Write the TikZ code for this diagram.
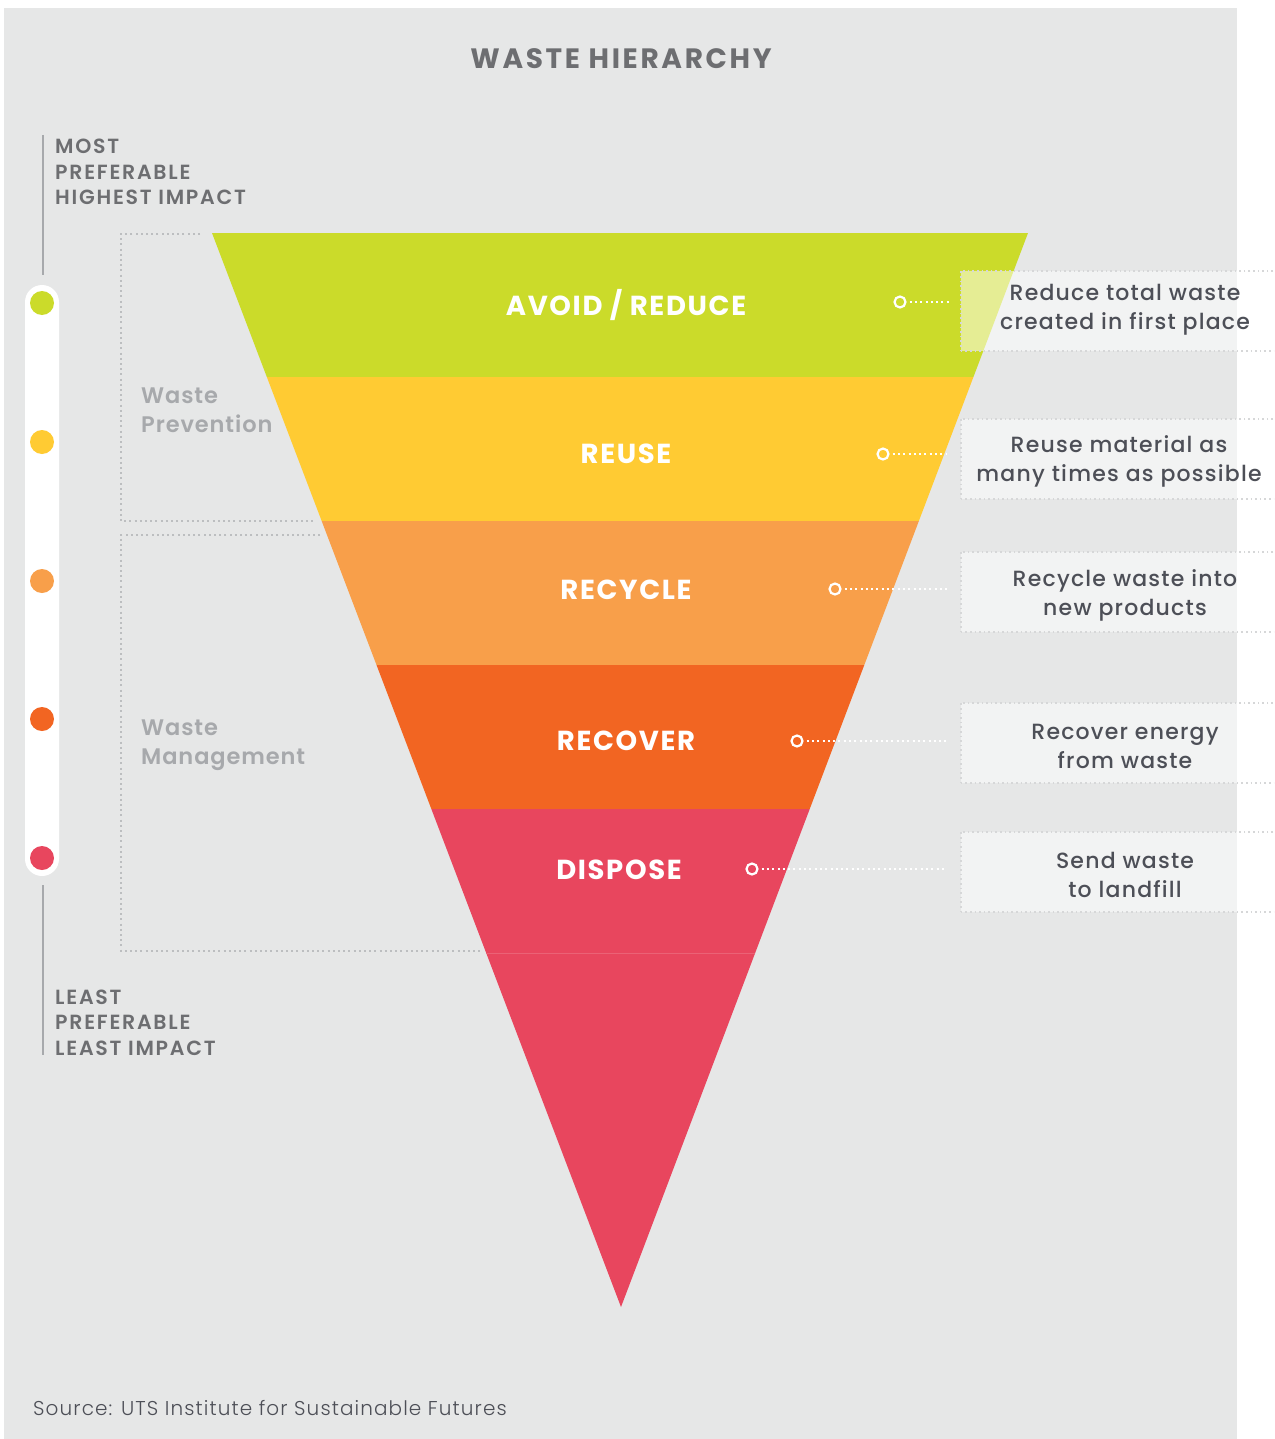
\documentclass[tikz,border=0pt]{standalone}
\usepackage{fontspec}
\setmainfont{Poppins}
\newfontfamily\fbold{Poppins SemiBold}
\newfontfamily\fxbold{Poppins Bold}
\newfontfamily\fmed{Poppins Medium}
\newfontfamily\flight{Poppins Light}
\definecolor{bggrey}{HTML}{E6E7E7}
\definecolor{cgreen}{HTML}{CBDB2A}
\definecolor{cyellow}{HTML}{FFCB33}
\definecolor{clorange}{HTML}{F89F4A}
\definecolor{corange}{HTML}{F26522}
\definecolor{cred}{HTML}{E8465E}
\definecolor{tdark}{HTML}{4D4F57}
\definecolor{tgrey}{HTML}{6D6E71}
\definecolor{tlight}{HTML}{A7A9AC}
\definecolor{dotgrey}{HTML}{BCBEC0}
\definecolor{boxdot}{HTML}{D6D7D8}
\tikzset{
  bandlabel/.style={text=white, font=\fxbold\fontsize{27.5}{30}\selectfont\addfontfeatures{LetterSpace=6}, inner sep=0pt},
  ring/.style={circle, draw=white, line width=2.2pt, minimum size=11pt, inner sep=0pt},
  leader/.style={white, line width=2pt, dash pattern=on 2pt off 3.3pt},
  descbox/.style={fill=white, fill opacity=0.5, draw=boxdot, line width=1.6pt, dash pattern=on 1.6pt off 3pt},
  desctext/.style={text=tdark, font=\fmed\fontsize{22}{29}\selectfont\addfontfeatures{LetterSpace=5.5}, align=center, inner sep=0pt},
  sidetext/.style={text=tgrey, font=\fbold\fontsize{20.5}{24}\selectfont\addfontfeatures{LetterSpace=8.5}, anchor=base west, inner sep=0pt},
  grouptext/.style={text=tlight, font=\fbold\fontsize{22.5}{28.5}\selectfont\addfontfeatures{LetterSpace=4}, align=left, anchor=north west, inner sep=0pt},
  bracket/.style={dotgrey, line width=2pt, dash pattern=on 2pt off 3.2pt},
  scaledot/.style={circle, minimum size=24pt, inner sep=0pt},
}
\begin{document}
\begin{tikzpicture}[x=1pt,y=-1pt]
\useasboundingbox (0,0) rectangle (1274,1439);
\clip (0,0) rectangle (1274,1439);
\fill[white] (0,0) rectangle (1274,1439);
\fill[bggrey] (4,8) rectangle (1237,1439);

% title
\node[text=tgrey, font=\fxbold\fontsize{28}{32}\selectfont\addfontfeatures{LetterSpace=9.5}, inner sep=0pt] (title) at (621,59) {WASTE HIERARCHY};

% inverted triangle bands
\begin{scope}
\clip (212,233) -- (1028,233) -- (621,1307) -- cycle;
\fill[cgreen] (200,233) rectangle (1040,377);
\fill[cyellow] (200,377) rectangle (1040,521);
\fill[clorange] (200,521) rectangle (1040,665);
\fill[corange] (200,665) rectangle (1040,809);
\fill[cred] (200,809) rectangle (1040,1310);
\draw[line width=0.8pt, color=cred!85!white] (200,953) -- (1040,953);
\end{scope}

% band labels
\node[bandlabel] (l1) at (626,305) {AVOID / REDUCE};
\node[bandlabel] (l2) at (626,454) {REUSE};
\node[bandlabel] (l3) at (626,590) {RECYCLE};
\node[bandlabel] (l4) at (626,741) {RECOVER};
\node[bandlabel] (l5) at (619,870) {DISPOSE};

% description boxes
\node[descbox, minimum width=330pt, minimum height=80pt, anchor=north west, inner sep=0pt] (b1) at (960,270) {};
\node[descbox, minimum width=330pt, minimum height=80pt, anchor=north west, inner sep=0pt] (b2) at (960,418) {};
\node[descbox, minimum width=330pt, minimum height=80pt, anchor=north west, inner sep=0pt] (b3) at (960,551) {};
\node[descbox, minimum width=330pt, minimum height=80pt, anchor=north west, inner sep=0pt] (b4) at (960,702) {};
\node[descbox, minimum width=330pt, minimum height=80pt, anchor=north west, inner sep=0pt] (b5) at (960,831) {};

\node[desctext] (d1) at (1125,310) {Reduce total waste\\created in first place};
\node[desctext] (d2) at (1119,461.5) {Reuse material as\\many times as possible};
\node[desctext] (d3) at (1125,595.5) {Recycle waste into\\new products};
\node[desctext] (d4) at (1125,746) {Recover energy\\from waste};
\node[desctext] (d5) at (1125,875) {Send waste\\to landfill};

% rings and leaders
\node[ring] (r1) at (900,302) {};
\node[ring] (r2) at (883,454) {};
\node[ring] (r3) at (835,589) {};
\node[ring] (r4) at (797,741) {};
\node[ring] (r5) at (752,869) {};
\coordinate (e1) at (949,302);
\coordinate (e2) at (946,454);
\coordinate (e3) at (947,589);
\coordinate (e4) at (947,741);
\coordinate (e5) at (947,869);
\draw[leader] ([xshift=3pt]r1.east) -- (e1);
\draw[leader] ([xshift=3pt]r2.east) -- (e2);
\draw[leader] ([xshift=3pt]r3.east) -- (e3);
\draw[leader] ([xshift=3pt]r4.east) -- (e4);
\draw[leader] ([xshift=3pt]r5.east) -- (e5);

% group brackets
\draw[bracket] (200,234) -- (121,234) -- (121,521) -- (316,521);
\draw[bracket] (320,535) -- (121,535) -- (121,951) -- (481,951);
\node[grouptext] (g1) at (141,388) {Waste\\Prevention};
\node[grouptext] (g2) at (141,720) {Waste\\Management};

% left scale
\fill[white, rounded corners=17pt] (25,285) rectangle (59,876);
\node[scaledot, fill=cgreen] (s1) at (42,303) {};
\node[scaledot, fill=cyellow] (s2) at (42,442) {};
\node[scaledot, fill=clorange] (s3) at (42,581) {};
\node[scaledot, fill=corange] (s4) at (42,719) {};
\node[scaledot, fill=cred] (s5) at (42,858) {};
\draw[tlight, line width=1.5pt] (43,135) -- (43,275);
\draw[tlight, line width=1.5pt] (43,885) -- (43,1055);

\node[sidetext] (m1) at (55,154) {MOST};
\node[sidetext] (m2) at (55,179.5) {PREFERABLE};
\node[sidetext] (m3) at (55,205) {HIGHEST IMPACT};
\node[sidetext] (n1) at (55,1004) {LEAST};
\node[sidetext] (n2) at (55,1029.5) {PREFERABLE};
\node[sidetext] (n3) at (55,1055) {LEAST IMPACT};

% source
\node[text=tdark, font=\flight\fontsize{20}{24}\selectfont\addfontfeatures{LetterSpace=5.5}, anchor=base west, inner sep=0pt] (src) at (33,1415) {Source: UTS Institute for Sustainable Futures};
\end{tikzpicture}
\end{document}
